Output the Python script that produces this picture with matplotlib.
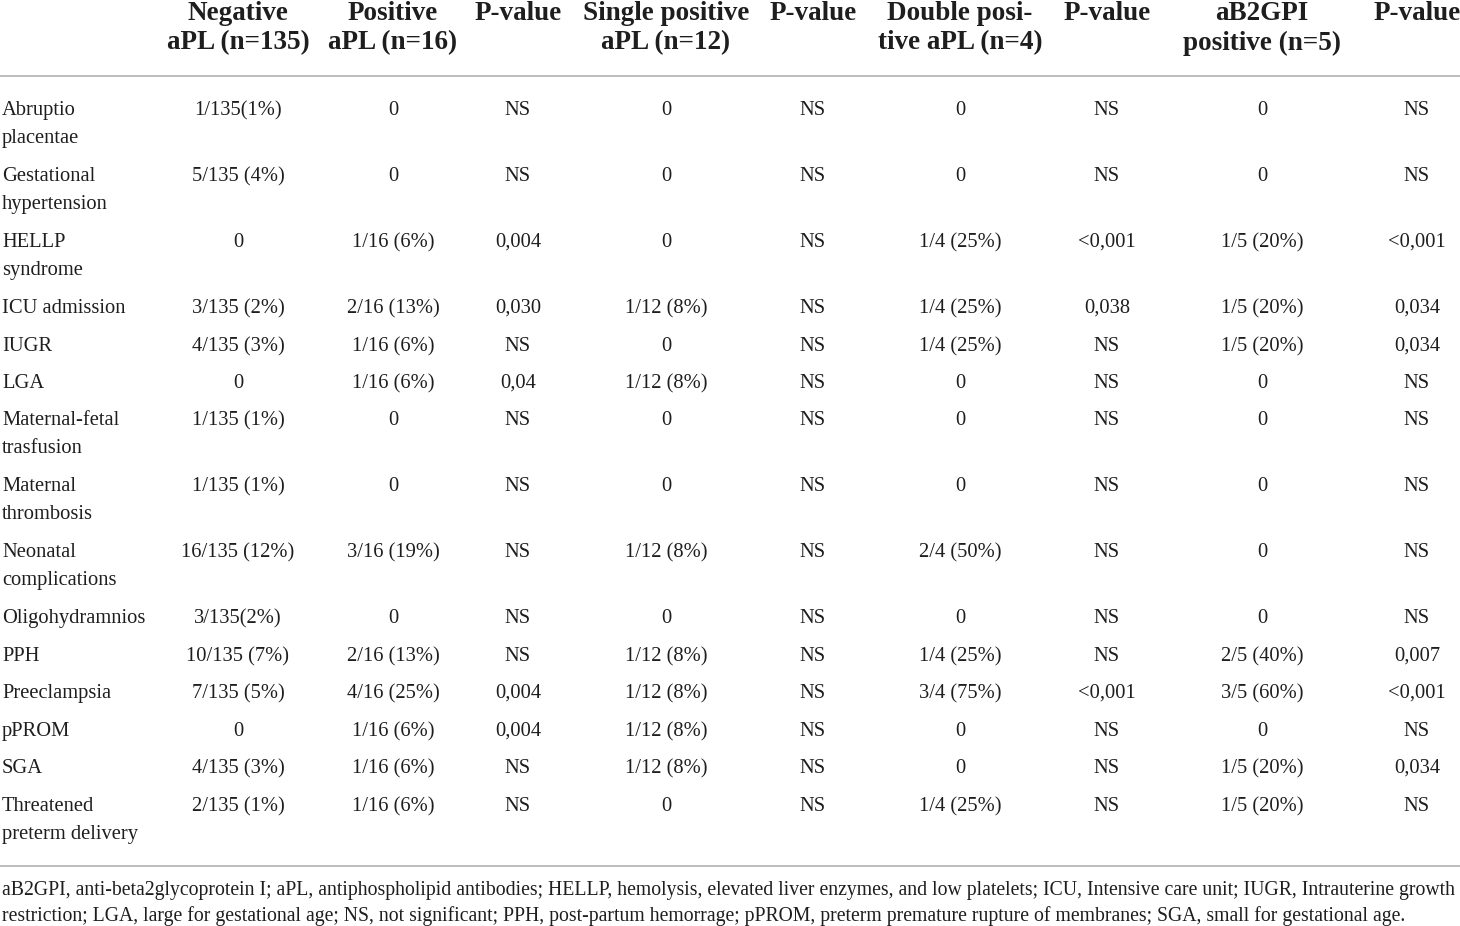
import matplotlib
matplotlib.use("Agg")
import matplotlib.pyplot as plt

plt.rcParams['font.family'] = ['Liberation Serif', 'DejaVu Serif']

headers = ["Negative\naPL (n=135)", "Positive\naPL (n=16)", "P-value",
           "Single positive\naPL (n=12)", "P-value", "Double posi-\ntive aPL (n=4)",
           "P-value", "aB2GPI\npositive (n=5)", "P-value"]

outcomes = ["Abruptio\nplacentae", "Gestational\nhypertension", "HELLP\nsyndrome",
            "ICU admission", "IUGR", "LGA", "Maternal-fetal\ntrasfusion",
            "Maternal\nthrombosis", "Neonatal\ncomplications", "Oligohydramnios",
            "PPH", "Preeclampsia", "pPROM", "SGA", "Threatened\npreterm delivery"]

negative = ["1/135(1%)", "5/135 (4%)", "0", "3/135 (2%)", "4/135 (3%)", "0",
            "1/135 (1%)", "1/135 (1%)", "16/135 (12%)", "3/135(2%)", "10/135 (7%)",
            "7/135 (5%)", "0", "4/135 (3%)", "2/135 (1%)"]
positive = ["0", "0", "1/16 (6%)", "2/16 (13%)", "1/16 (6%)", "1/16 (6%)", "0", "0",
            "3/16 (19%)", "0", "2/16 (13%)", "4/16 (25%)", "1/16 (6%)", "1/16 (6%)",
            "1/16 (6%)"]
p_pos = ["NS", "NS", "0,004", "0,030", "NS", "0,04", "NS", "NS", "NS", "NS", "NS",
         "0,004", "0,004", "NS", "NS"]
single = ["0", "0", "0", "1/12 (8%)", "0", "1/12 (8%)", "0", "0", "1/12 (8%)", "0",
          "1/12 (8%)", "1/12 (8%)", "1/12 (8%)", "1/12 (8%)", "0"]
p_single = ["NS"] * 15
double = ["0", "0", "1/4 (25%)", "1/4 (25%)", "1/4 (25%)", "0", "0", "0",
          "2/4 (50%)", "0", "1/4 (25%)", "3/4 (75%)", "0", "0", "1/4 (25%)"]
p_double = ["NS", "NS", "<0,001", "0,038", "NS", "NS", "NS", "NS", "NS", "NS", "NS",
            "<0,001", "NS", "NS", "NS"]
b2gpi = ["0", "0", "1/5 (20%)", "1/5 (20%)", "1/5 (20%)", "0", "0", "0", "0", "0",
         "2/5 (40%)", "3/5 (60%)", "0", "1/5 (20%)", "1/5 (20%)"]
p_b2gpi = ["NS", "NS", "<0,001", "0,034", "0,034", "NS", "NS", "NS", "NS", "NS",
           "0,007", "<0,001", "NS", "0,034", "NS"]

footnote = ("aB2GPI, anti-beta2glycoprotein I; aPL, antiphospholipid antibodies; HELLP, "
            "hemolysis, elevated liver enzymes, and low platelets; ICU, Intensive care unit; "
            "IUGR, Intrauterine growth\nrestriction; LGA, large for gestational age; NS, not "
            "significant; PPH, post-partum hemorrage; pPROM, preterm premature rupture of "
            "membranes; SGA, small for gestational age.")

columns = [negative, positive, p_pos, single, p_single, double, p_double, b2gpi, p_b2gpi]

# layout (pixel coordinates)
col_x = [238, 393, 518, 666, 813, 960, 1107, 1262, 1417]
row_y = [108, 174, 240, 306, 344, 381, 418, 484, 550, 616, 654, 691, 729, 766, 804]
line_gap = 28
txt = '#1e1e1e'

fig = plt.figure(figsize=(14.6, 9.26), dpi=100)
ax = fig.add_axes([0, 0, 1, 1])
ax.set_xlim(0, 1460)
ax.set_ylim(926, 0)
ax.axis('off')

for x, h in zip(col_x, headers):
    for k, part in enumerate(h.split("\n")):
        ax.text(x, 13 + k * 30, part, ha='center', va='center', fontsize=19.5,
                fontweight='bold', color=txt)

ax.plot([0, 1460], [76, 76], color='#bdbdbd', lw=1.4)
ax.plot([0, 1460], [866, 866], color='#bdbdbd', lw=1.4)

for y, lab in zip(row_y, outcomes):
    for k, part in enumerate(lab.split("\n")):
        ax.text(2, y + 2.5 + k * line_gap, part, ha='left', va='center', fontsize=14.8,
                color=txt)

for x, col in zip(col_x, columns):
    for y, v in zip(row_y, col):
        ax.text(x, y + 2.5, v, ha='center', va='center', fontsize=14.8, color=txt)

for k, part in enumerate(footnote.split("\n")):
    ax.text(2, 890 + k * 26, part, ha='left', va='center', fontsize=14.2, color=txt)

fig.savefig("out.png", dpi=100)
